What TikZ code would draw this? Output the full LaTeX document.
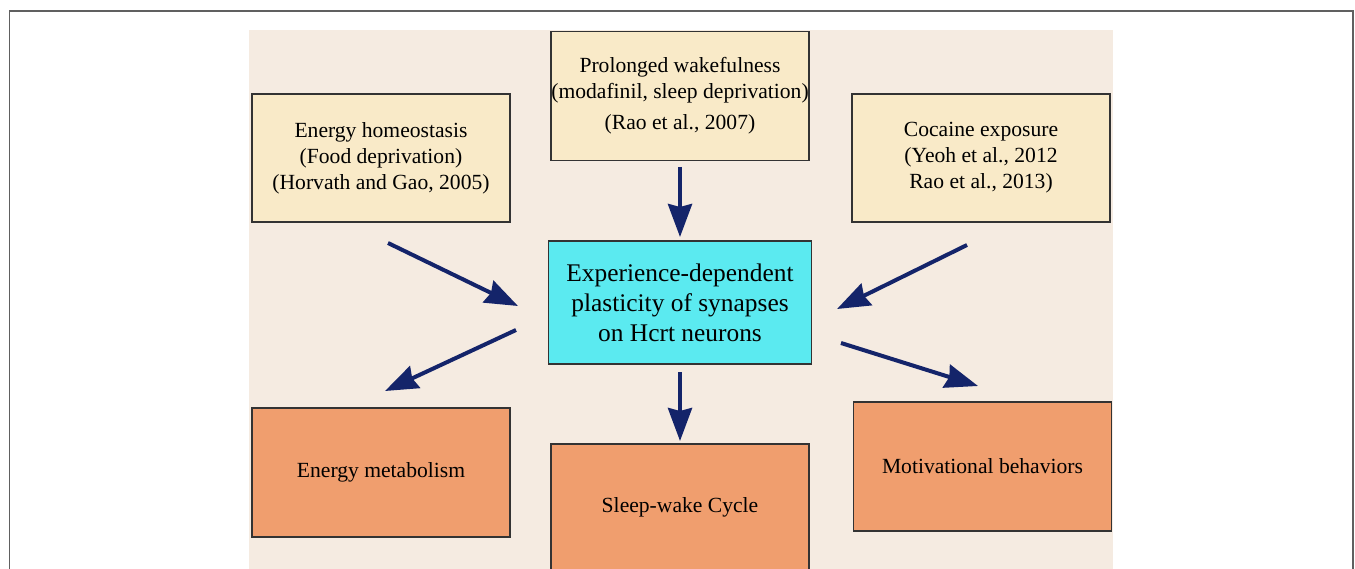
\documentclass[tikz,border=0pt]{standalone}
\usepackage{fontspec}
\setmainfont{Liberation Serif}
\usetikzlibrary{arrows.meta,positioning}

\definecolor{pagebg}{HTML}{F5EBE1}
\definecolor{causefill}{HTML}{F9EAC8}
\definecolor{hubfill}{HTML}{5BEAF0}
\definecolor{effectfill}{HTML}{F09E6E}
\definecolor{arrownavy}{HTML}{14246A}
\definecolor{boxline}{HTML}{333333}

\tikzset{
  causebox/.style={draw=boxline,fill=causefill,line width=1.2pt,align=center,
    minimum width=258pt,minimum height=128pt,inner sep=0pt,
    font=\fontsize{21.6}{26}\selectfont},
  hubbox/.style={draw=boxline,fill=hubfill,line width=1.2pt,align=center,
    minimum width=263pt,minimum height=123pt,inner sep=0pt,
    font=\fontsize{25.4}{30}\selectfont},
  effectbox/.style={draw=boxline,fill=effectfill,line width=1.2pt,align=center,
    minimum width=258pt,minimum height=129pt,inner sep=0pt,
    font=\fontsize{21.6}{26}\selectfont},
  fatarrow/.style={draw=arrownavy,line width=4pt,
    -{Stealth[length=33pt,width=24pt,inset=3pt]}}
}

\begin{document}
\begin{tikzpicture}[x=1pt,y=-1pt]
\useasboundingbox (0,0) rectangle (1355,569);

% frame and background
\draw[gray!75!black,line width=1.2pt] (9.5,575)--(9.5,11)--(1353,11)--(1353,575);
\fill[pagebg] (249,30) rectangle (1113,575);

% causes
\node[causebox] (home) at (381,158) {Energy homeostasis\\(Food deprivation)\\(Horvath and Gao, 2005)};
\node[causebox,minimum height=129pt] (wake) at (680,96) {Prolonged wakefulness\\(modafinil, sleep deprivation)\\[5pt](Rao et al., 2007)};
\node[causebox] (coke) at (981,158) {Cocaine exposure\\(Yeoh et al., 2012\\Rao et al., 2013)};

% hub
\node[hubbox] (hub) at (680,302.5) {Experience-dependent\\plasticity of synapses\\on Hcrt neurons};

% effects
\node[effectbox] (meta) at (381,472.5) {Energy metabolism};
\node[effectbox,minimum height=127pt] (sleep) at (680,507.5) {Sleep-wake Cycle};
\node[effectbox] (motiv) at (982.5,466.5) {Motivational behaviors};

% arrow ends
\coordinate (homeTail) at (388,243);
\coordinate (homeTip) at (518,306);
\coordinate (wakeTail) at (680,167);
\coordinate (wakeTip) at (680,237);
\coordinate (cokeTail) at (967,245);
\coordinate (cokeTip) at (837,309);
\coordinate (metaTail) at (516,330);
\coordinate (metaTip) at (385,391);
\coordinate (sleepTail) at (680,372);
\coordinate (sleepTip) at (680,441);
\coordinate (motivTail) at (841,343);
\coordinate (motivTip) at (978,386);

\draw[fatarrow] (homeTail) -- (homeTip);
\draw[fatarrow] (wakeTail) -- (wakeTip);
\draw[fatarrow] (cokeTail) -- (cokeTip);
\draw[fatarrow] (metaTail) -- (metaTip);
\draw[fatarrow] (sleepTail) -- (sleepTip);
\draw[fatarrow] (motivTail) -- (motivTip);

\end{tikzpicture}
\end{document}
